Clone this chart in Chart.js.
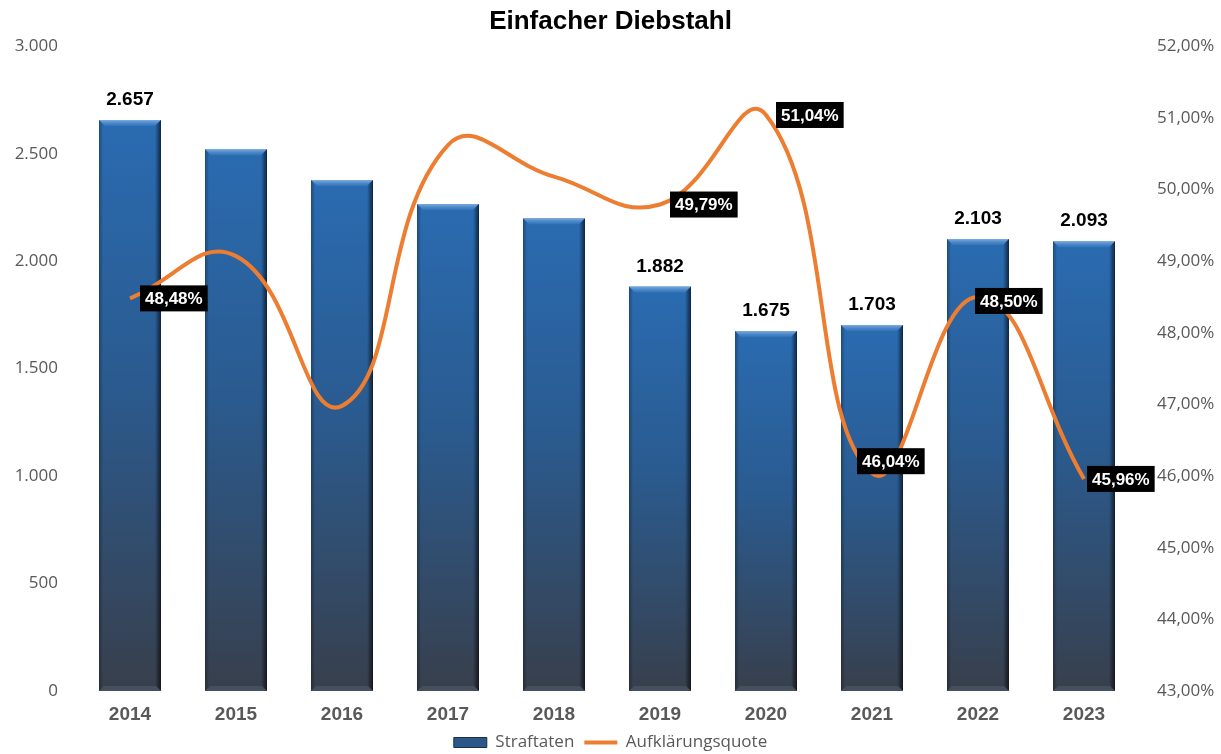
<!DOCTYPE html>
<html>
<head>
<meta charset="utf-8">
<script src="https://cdn.jsdelivr.net/npm/chart.js@4.4.1/dist/chart.umd.min.js"></script>
<style>
  html, body { margin: 0; padding: 0; background: #fff; }
</style>
</head>
<body>
<canvas id="chart" width="1221" height="754"></canvas>
<script>
const years = ['2014', '2015', '2016', '2017', '2018', '2019', '2020', '2021', '2022', '2023'];
const straftaten = [2657, 2521, 2377, 2266, 2200, 1882, 1675, 1703, 2103, 2093];
const quote = [48.48, 49.07, 46.98, 50.62, 50.18, 49.79, 51.04, 46.04, 48.50, 45.96];
const labeledYears = ['2014', '2019', '2020', '2021', '2022', '2023'];

function fmtNum(v) {
  return String(Math.round(v)).replace(/\B(?=(\d{3})+(?!\d))/g, '.');
}
function fmtPct(v) {
  return v.toFixed(2).replace('.', ',') + '%';
}

function barFill(ctx) {
  const chart = ctx.chart;
  const y = chart.scales.y;
  if (!chart.chartArea || !y || ctx.type !== 'data') return '#2b5d96';
  const top = y.getPixelForValue(ctx.raw);
  const bottom = y.getPixelForValue(0);
  const g = chart.ctx.createLinearGradient(0, top, 0, bottom);
  g.addColorStop(0, '#2a6bb1');
  g.addColorStop(0.45, '#2a5b90');
  g.addColorStop(1, '#383f4c');
  return g;
}

// 3d look on the bars (bevel at top, dark right edge)
const bevel = {
  id: 'bevel',
  afterDatasetDraw(chart, args) {
    if (args.index !== 0) return;
    const c = chart.ctx;
    args.meta.data.forEach(bar => {
      const {x, y, base, width} = bar.getProps(['x', 'y', 'base', 'width'], true);
      const l = x - width / 2, r = x + width / 2, b = 6;
      c.save();
      let g = c.createLinearGradient(0, y, 0, y + b);
      g.addColorStop(0, 'rgba(150,195,240,0.75)');
      g.addColorStop(1, 'rgba(70,135,205,0.35)');
      c.fillStyle = g;
      c.beginPath();
      c.moveTo(l, y); c.lineTo(r, y); c.lineTo(r - b, y + b); c.lineTo(l + b, y + b);
      c.closePath(); c.fill();
      g = c.createLinearGradient(r - b, 0, r, 0);
      g.addColorStop(0, 'rgba(0,0,0,0)');
      g.addColorStop(1, 'rgba(0,0,0,0.65)');
      c.fillStyle = g;
      c.beginPath();
      c.moveTo(r - b, y + b); c.lineTo(r, y); c.lineTo(r, base); c.lineTo(r - b, base - b);
      c.closePath(); c.fill();
      g = c.createLinearGradient(l, 0, l + 4, 0);
      g.addColorStop(0, 'rgba(0,0,0,0.3)');
      g.addColorStop(1, 'rgba(0,0,0,0)');
      c.fillStyle = g;
      c.beginPath();
      c.moveTo(l, y); c.lineTo(l + 4, y + 4); c.lineTo(l + 4, base - 4); c.lineTo(l, base);
      c.closePath(); c.fill();
      c.fillStyle = 'rgba(80,92,110,0.55)';
      c.beginPath();
      c.moveTo(l, base); c.lineTo(l + 5, base - 5); c.lineTo(r - 5, base - 5); c.lineTo(r, base);
      c.closePath(); c.fill();
      c.restore();
    });
  }
};

const shifts = {'2021': [-25, -12], '2022': [-13, 4], '2023': [-7, 0]};

const valueLabels = {
  id: 'valueLabels',
  afterDatasetsDraw(chart) {
    const c = chart.ctx;
    const barMeta = chart.getDatasetMeta(0);
    const lineMeta = chart.getDatasetMeta(1);
    c.save();
    years.forEach((yr, i) => {
      if (!labeledYears.includes(yr)) return;
      const bar = barMeta.data[i];
      c.font = 'bold 19px "Liberation Sans", Arial, sans-serif';
      c.fillStyle = '#000';
      c.textAlign = 'center';
      c.textBaseline = 'middle';
      c.fillText(fmtNum(straftaten[i]), bar.x, bar.y - 20);

      const pt = lineMeta.data[i];
      const txt = fmtPct(quote[i]);
      c.font = 'bold 17px "Liberation Sans", Arial, sans-serif';
      const w = c.measureText(txt).width + 10;
      const s = shifts[yr] || [0, 0];
      const left = pt.x + 10 + s[0];
      const cy = pt.y + s[1];
      c.fillStyle = '#000';
      c.fillRect(left, cy - 13, w, 26);
      c.fillStyle = '#fff';
      c.textAlign = 'left';
      c.fillText(txt, left + 5, cy + 1);
    });
    c.restore();
  }
};

new Chart(document.getElementById('chart'), {
  data: {
    labels: years,
    datasets: [
      {
        type: 'bar',
        label: 'Straftaten',
        data: straftaten,
        yAxisID: 'y',
        backgroundColor: barFill,
        borderWidth: 0,
        barPercentage: 0.585,
        categoryPercentage: 1,
        order: 1
      },
      {
        type: 'line',
        label: 'Aufklärungsquote',
        data: quote,
        yAxisID: 'y1',
        borderColor: '#ed7d31',
        borderWidth: 4,
        pointRadius: 0,
        tension: 0.45,
        fill: false,
        order: 0
      }
    ]
  },
  options: {
    responsive: false,
    animation: false,
    layout: {padding: 0},
    plugins: {
      tooltip: {enabled: false},
      title: {
        display: true,
        text: 'Einfacher Diebstahl',
        color: '#000',
        font: {family: '"Liberation Sans", Arial, sans-serif', size: 26, weight: 'bold'},
        padding: {top: 6, bottom: 9}
      },
      legend: {
        position: 'bottom',
        maxHeight: 30,
        labels: {
          usePointStyle: true,
          pointStyleWidth: 33,
          boxWidth: 33,
          boxHeight: 10,
          padding: 10,
          color: '#595959',
          font: {family: '"Open Sans", sans-serif', size: 17},
          generateLabels: () => [
            {text: 'Straftaten', fillStyle: '#2c5789', strokeStyle: '#1b2f47', lineWidth: 1,
             pointStyle: 'rect', fontColor: '#595959', datasetIndex: 0, hidden: false},
            {text: 'Aufklärungsquote', fillStyle: '#ed7d31', strokeStyle: '#ed7d31', lineWidth: 4,
             pointStyle: 'line', fontColor: '#595959', datasetIndex: 1, hidden: false}
          ]
        }
      }
    },
    scales: {
      x: {
        grid: {display: false, drawTicks: false},
        border: {display: false},
        ticks: {
          color: '#595959',
          padding: 12,
          font: {family: '"Liberation Sans", Arial, sans-serif', size: 19, weight: 'bold'}
        },
        afterFit: s => { s.height = 33; }
      },
      y: {
        position: 'left',
        min: 0,
        max: 3000,
        grid: {display: false, drawTicks: false},
        border: {display: false},
        ticks: {
          stepSize: 500,
          padding: 19,
          color: '#595959',
          font: {family: '"Open Sans", sans-serif', size: 17},
          callback: v => fmtNum(v)
        },
        afterFit: s => { s.width = 77; }
      },
      y1: {
        position: 'right',
        min: 43,
        max: 52,
        grid: {display: false, drawTicks: false},
        border: {display: false},
        ticks: {
          stepSize: 1,
          padding: 20,
          color: '#595959',
          font: {family: '"Open Sans", sans-serif', size: 17},
          callback: v => fmtPct(v)
        },
        afterFit: s => { s.width = 84; }
      }
    }
  },
  plugins: [bevel, valueLabels]
});
</script>
</body>
</html>
